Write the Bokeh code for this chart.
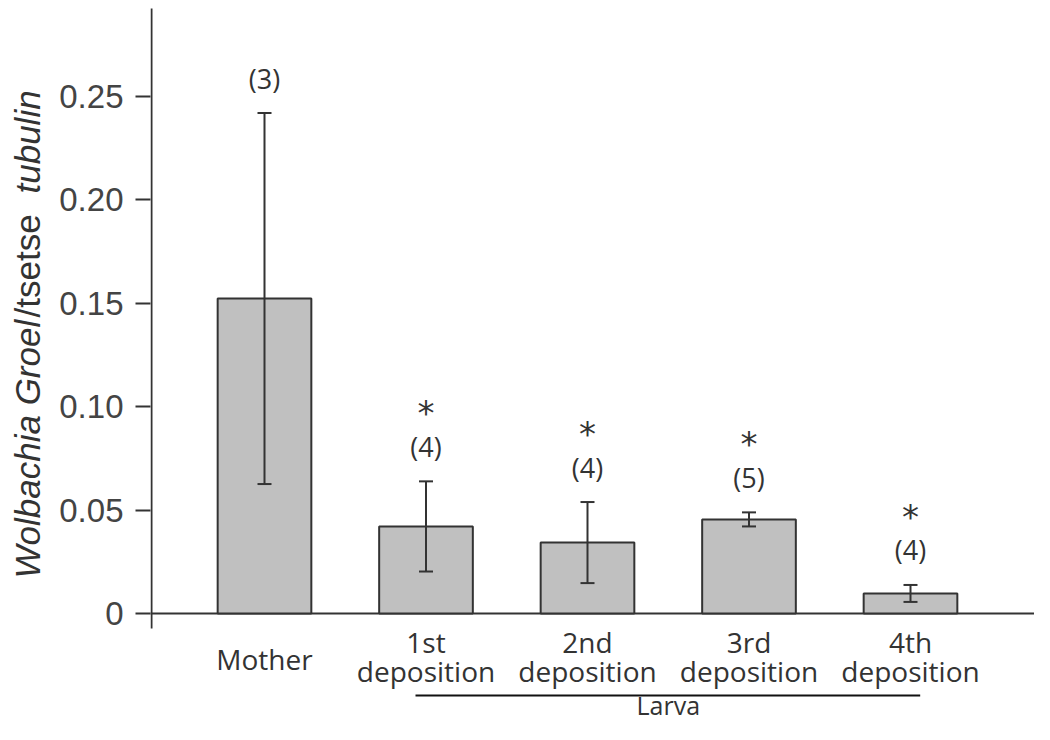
import math
from bokeh.plotting import figure
from bokeh.layouts import row
from bokeh.models import (ColumnDataSource, Whisker, TeeHead, FixedTicker,
                          CustomJSTickFormatter, Range1d)
from bokeh.core.properties import value
from bokeh.embed import file_html
from bokeh.resources import INLINE

# ---------------- data ----------------
categories = ["Mother", "1st deposition", "2nd deposition", "3rd deposition", "4th deposition"]
label_line1 = ["", "1st", "2nd", "3rd", "4th"]
label_line2 = ["Mother", "deposition", "deposition", "deposition", "deposition"]
means = [0.1523, 0.0421, 0.0343, 0.0455, 0.0097]
errors = [0.0897, 0.0218, 0.0196, 0.0034, 0.0041]
n_counts = [3, 4, 4, 5, 4]
significant = [False, True, True, True, True]
y_ticks = [0, 0.05, 0.10, 0.15, 0.20, 0.25]
group_label = "Larva"
group_members = ["1st deposition", "2nd deposition", "3rd deposition", "4th deposition"]
y_title_parts = ["Wolbachia Groel", "/tsetse", "tubulin"]
y_title_styles = ["italic", "normal", "italic"]

# ---------------- layout constants ----------------
W, H = 1034, 724
TITLE_W = 50              # width of the strip holding the y title
PX_PER_UNIT = 2068.0      # vertical pixels per y unit
PX_PER_CAT = 161.5        # horizontal pixels per category
AXIS_X = 150              # y axis position (page px)
ZERO_Y = 613              # y=0 position from top (page px)

x_idx = list(range(len(categories)))
x_start = -114 / PX_PER_CAT
x_end = x_start + (W - AXIS_X) / PX_PER_CAT
y_end = ZERO_Y / PX_PER_UNIT
y_start = -(H - ZERO_Y) / PX_PER_UNIT

AX = "#333333"
FONT_AX = "Liberation Sans"
FONT_LAB = "Open Sans"

p = figure(width=W - TITLE_W, height=H, output_backend="svg", toolbar_location=None,
           x_range=Range1d(x_start, x_end), y_range=Range1d(y_start, y_end),
           x_axis_location=None, min_border_left=AXIS_X - TITLE_W, min_border_right=0,
           min_border_top=0, min_border_bottom=0)
p.outline_line_color = None
p.grid.visible = False
p.background_fill_color = "white"

yaxis = p.yaxis[0]
yaxis.ticker = FixedTicker(ticks=y_ticks, minor_ticks=[])
yaxis.formatter = CustomJSTickFormatter(code="return tick == 0 ? '0' : tick.toFixed(2);")
yaxis.axis_line_color = None
yaxis.major_tick_out = 15
yaxis.major_tick_in = 0
yaxis.major_tick_line_color = AX
yaxis.major_tick_line_width = 2
yaxis.minor_tick_line_color = None
yaxis.major_label_standoff = 12
yaxis.major_label_text_font = FONT_AX
yaxis.major_label_text_font_size = "33px"
yaxis.major_label_text_color = "#444444"

src = ColumnDataSource(dict(
    x=x_idx, top=means,
    lower=[m - e for m, e in zip(means, errors)],
    upper=[m + e for m, e in zip(means, errors)],
    n=["(%d)" % n for n in n_counts],
    star=["*" if s else "" for s in significant],
    l1=label_line1,
))

# axis lines
ax_x = x_start + 1 / PX_PER_CAT
p.segment(x0=[ax_x], y0=[-15 / PX_PER_UNIT], x1=[ax_x], y1=[(ZERO_Y - 8) / PX_PER_UNIT],
          line_color=AX, line_width=2)
p.segment(x0=[x_start], y0=[0], x1=[x_end], y1=[0], line_color=AX, line_width=2)

# bars
p.vbar(x="x", top="top", bottom=0, width=0.58, source=src,
       fill_color="#c0c0c0", line_color=AX, line_width=2)

# error bars
wh = Whisker(base="x", lower="lower", upper="upper", source=src, dimension="height",
             line_color=AX, line_width=2, level="overlay",
             upper_head=TeeHead(size=14, line_color=AX, line_width=2),
             lower_head=TeeHead(size=14, line_color=AX, line_width=2))
p.add_layout(wh)

# n and significance annotations
p.text(x="x", y="upper", text="n", source=src, y_offset=-35,
       text_font=value(FONT_LAB), text_font_size="27px", text_color=AX,
       text_align="center", text_baseline="middle")
p.text(x="x", y="upper", text="star", source=src, y_offset=-68,
       text_font=value("DejaVu Sans"), text_font_size="34px", text_color=AX,
       text_align="center", text_baseline="middle")

# category labels
p.text(x="x", y=0, text="l1", source=src, y_offset=28,
       text_font=value(FONT_LAB), text_font_size="28px", text_color=AX,
       text_align="center", text_baseline="alphabetic")
for i in x_idx:
    p.text(x=[i], y=[0], text=[label_line2[i]], y_offset=45 if label_line1[i] == "" else 57,
           text_font=value(FONT_LAB), text_font_size="28px", text_color=AX,
           text_align="center", text_baseline="alphabetic")

# group bracket line + label
gx = [categories.index(c) for c in group_members]
line_y = -82 / PX_PER_UNIT
p.segment(x0=[min(gx) - 0.065], y0=[line_y], x1=[max(gx) + 0.06], y1=[line_y],
          line_color="#111111", line_width=2)
p.text(x=[(min(gx) + max(gx)) / 2], y=[0], text=[group_label], y_offset=91,
       text_font=value(FONT_LAB), text_font_size="25px", text_color=AX,
       text_align="center", text_baseline="alphabetic")

# ---------------- y-axis title strip (mixed styles, rotated) ----------------
t = figure(width=TITLE_W, height=H, output_backend="svg", toolbar_location=None,
           x_range=Range1d(0, TITLE_W), y_range=Range1d(H, 0),
           x_axis_location=None, y_axis_location=None,
           min_border_left=0, min_border_right=0, min_border_top=0, min_border_bottom=0)
t.outline_line_color = None
t.grid.visible = False
starts = [578, 317, 193]   # page y where each part begins (bottom end)
for txt, style, sy in zip(y_title_parts, y_title_styles, starts):
    t.text(x=[27], y=[sy], text=[txt], angle=math.pi / 2,
           text_align="left", text_baseline="middle",
           text_font=value(FONT_AX), text_font_style=style, text_font_size="35px",
           text_color=AX)

layout = row(t, p, spacing=0)
open("out.html", "w").write(file_html(layout, INLINE))
